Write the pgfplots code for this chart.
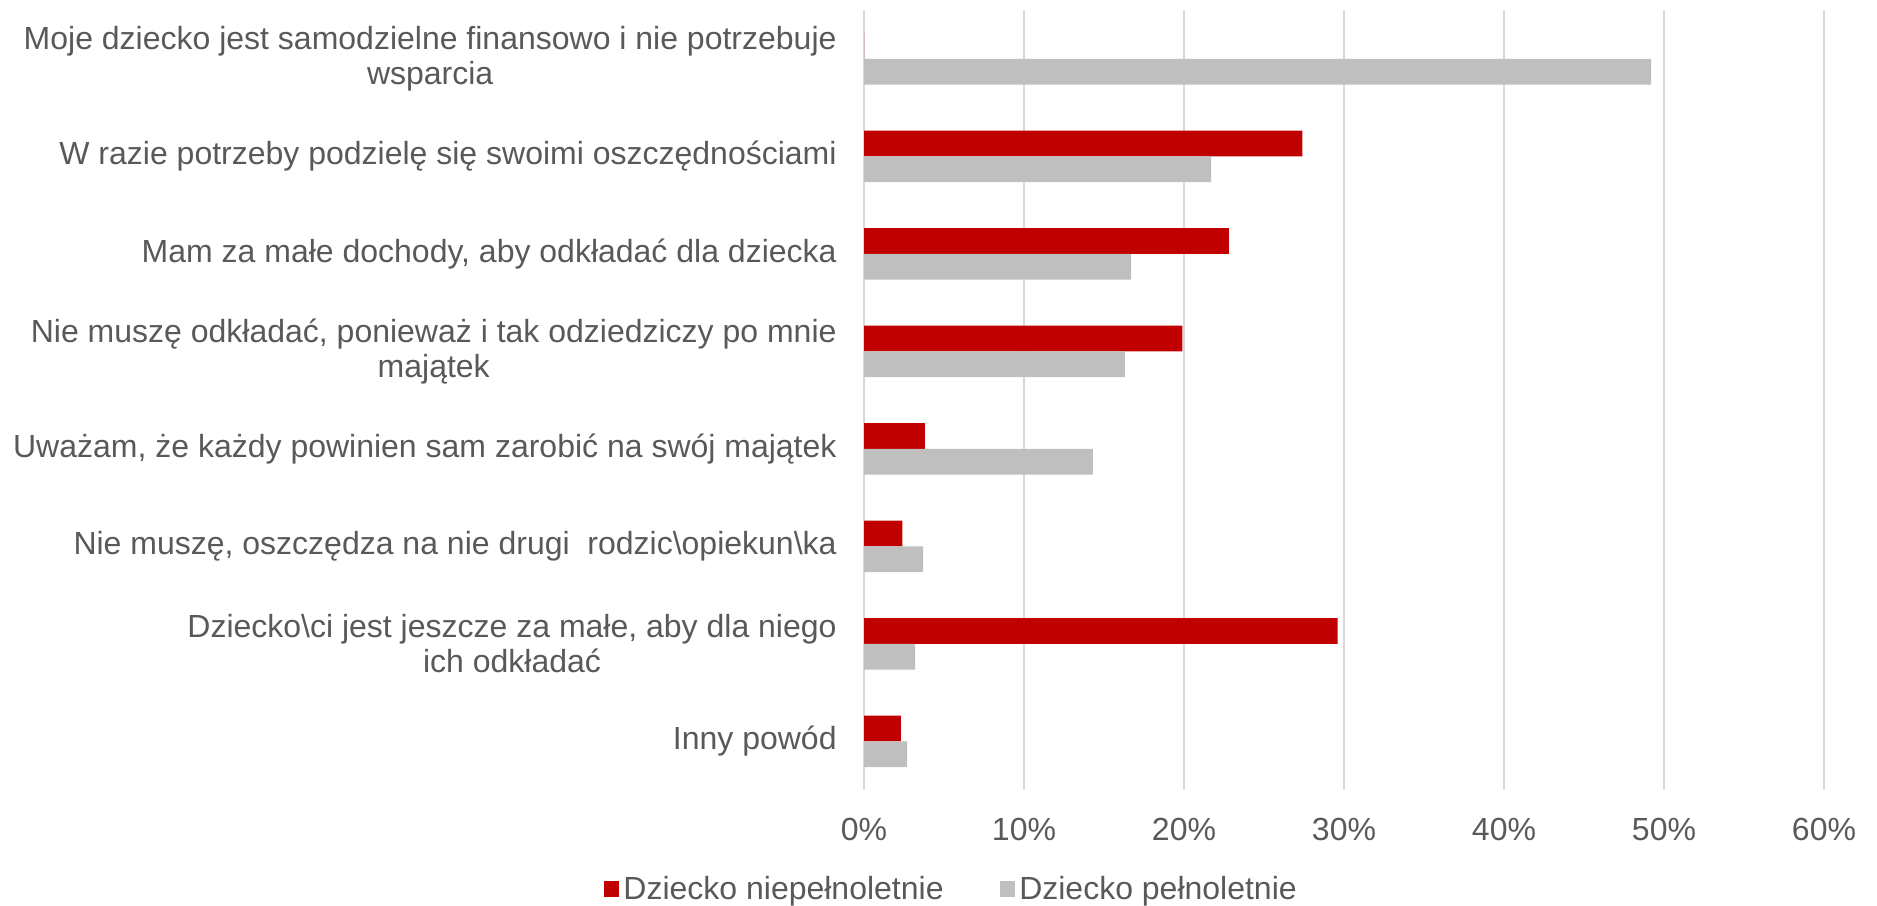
\documentclass[border=0pt]{standalone}
\usepackage{fontspec}
\setmainfont{Liberation Sans}
\usepackage{pgfplots}
\pgfplotsset{compat=1.18}
\definecolor{cred}{HTML}{C00000}
\definecolor{cgray}{HTML}{BFBFBF}
\definecolor{cgrid}{HTML}{D9D9D9}
\definecolor{ctext}{HTML}{595959}
\begin{document}
\begin{tikzpicture}
\useasboundingbox (0,0) rectangle (938.5pt,452.5pt);
\begin{axis}[
  at={(432pt,57.5pt)}, anchor=south west,
  scale only axis, width=480pt, height=390pt,
  xbar, bar width=0.264,
  xmin=0, xmax=60, ymin=-0.5, ymax=7.5, y dir=reverse,
  axis line style={draw=none},
  major tick length=0pt,
  xtick={0,10,20,30,40,50,60},
  xticklabels={0\%,10\%,20\%,30\%,40\%,50\%,60\%},
  xmajorgrids, grid style={cgrid, line width=1pt},
  ytick={0,1,2,3,4,5,6,7},
  yticklabels={
    {Moje dziecko jest samodzielne finansowo i nie potrzebuje\\wsparcia},
    {W razie potrzeby podzielę się swoimi oszczędnościami},
    {Mam za małe dochody, aby odkładać dla dziecka},
    {Nie muszę odkładać, ponieważ i tak odziedziczy po mnie\\majątek},
    {Uważam, że każdy powinien sam zarobić na swój majątek},
    {Nie muszę, oszczędza na nie drugi\ \ rodzic\textbackslash opiekun\textbackslash ka},
    {Dziecko\textbackslash ci jest jeszcze za małe, aby dla niego\\ich odkładać},
    {Inny powód}},
  ticklabel style={font=\fontsize{16}{17.4}\selectfont, text=ctext},
  yticklabel style={align=center, anchor=east, inner sep=0pt, xshift=-13.5pt},
  xticklabel style={anchor=north, inner sep=0pt, yshift=-14pt},
  legend columns=2,
  legend style={at={(0.092,-0.127)}, anchor=center, draw=none, fill=none,
    font=\fontsize{16}{17.4}\selectfont, text=ctext,
    /tikz/every even column/.append style={column sep=26pt}},
  legend image code/.code={\fill[#1] (-3pt,-3.9pt) rectangle (4.8pt,3.9pt);},
]
\addplot[fill=cred, draw=none, bar shift=-0.132] coordinates {
  (0,0) (27.4,1) (22.8,2) (19.9,3) (3.8,4) (2.4,5) (29.6,6) (2.3,7)};
\addplot[fill=cgray, draw=none, bar shift=0.132] coordinates {
  (49.2,0) (21.7,1) (16.7,2) (16.3,3) (14.3,4) (3.7,5) (3.2,6) (2.7,7)};
\legend{Dziecko niepełnoletnie, Dziecko pełnoletnie}
\end{axis}
\end{tikzpicture}
\end{document}
